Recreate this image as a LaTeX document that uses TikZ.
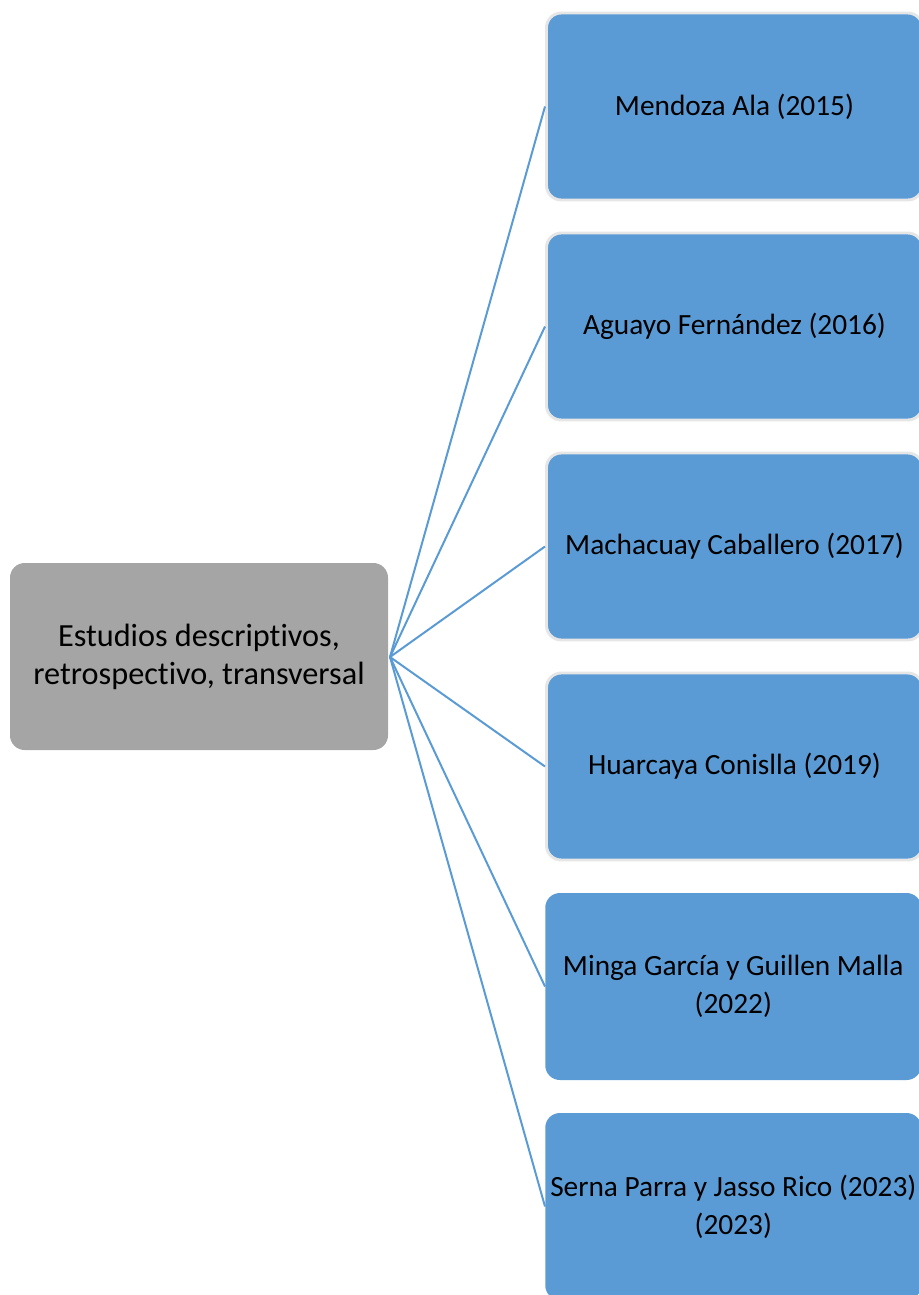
\documentclass[tikz,border=0pt]{standalone}
\usepackage{fontspec}
\setmainfont{Carlito}[Ligatures=NoCommon]
\definecolor{boxblue}{HTML}{5B9BD5}
\definecolor{boxgray}{HTML}{A5A5A5}
\definecolor{rimgray}{HTML}{E7E6E6}
\begin{document}
\begin{tikzpicture}[x=0.75pt,y=-0.75pt,
  txt/.style={font=\fontsize{22}{28.5}\selectfont, align=center, text=black},
  leaf/.style={fill=boxblue, rounded corners=11pt, minimum width=282pt, minimum height=140.25pt, inner sep=0pt, txt, anchor=west},
  rimmed/.style={draw=rimgray, line width=2.2pt},
  link/.style={draw=boxblue, line width=1.5pt}]
\useasboundingbox (0,0) rectangle (919,1295);
\begin{scope}
\clip (0,0) rectangle (919,1295);
\node[fill=boxgray, rounded corners=11pt, minimum width=283.5pt, minimum height=140.25pt, inner sep=0pt, align=center, font=\fontsize{24.2}{28.5}\selectfont] (root) at (199,656.5) {Estudios descriptivos,\\retrospectivo, transversal};
\coordinate (hub) at (390,657);
\node[leaf, rimmed] (b1) at (545,106.5) {Mendoza Ala (2015)};
\node[leaf, rimmed] (b2) at (545,326.5) {Aguayo Fernández (2016)};
\node[leaf, rimmed] (b3) at (545,546.5) {Machacuay Caballero (2017)};
\node[leaf, rimmed] (b4) at (545,766.5) {Huarcaya Conislla (2019)};
\node[leaf] (b5) at (545,986.5) {Minga García y Guillen Malla\\(2022)};
\node[leaf] (b6) at (545,1206.5) {Serna Parra y Jasso Rico (2023)\\(2023)};
\foreach \b in {b1,b2,b3,b4,b5,b6}
  \draw[link] (hub) -- (\b.west);
\end{scope}
\end{tikzpicture}
\end{document}
